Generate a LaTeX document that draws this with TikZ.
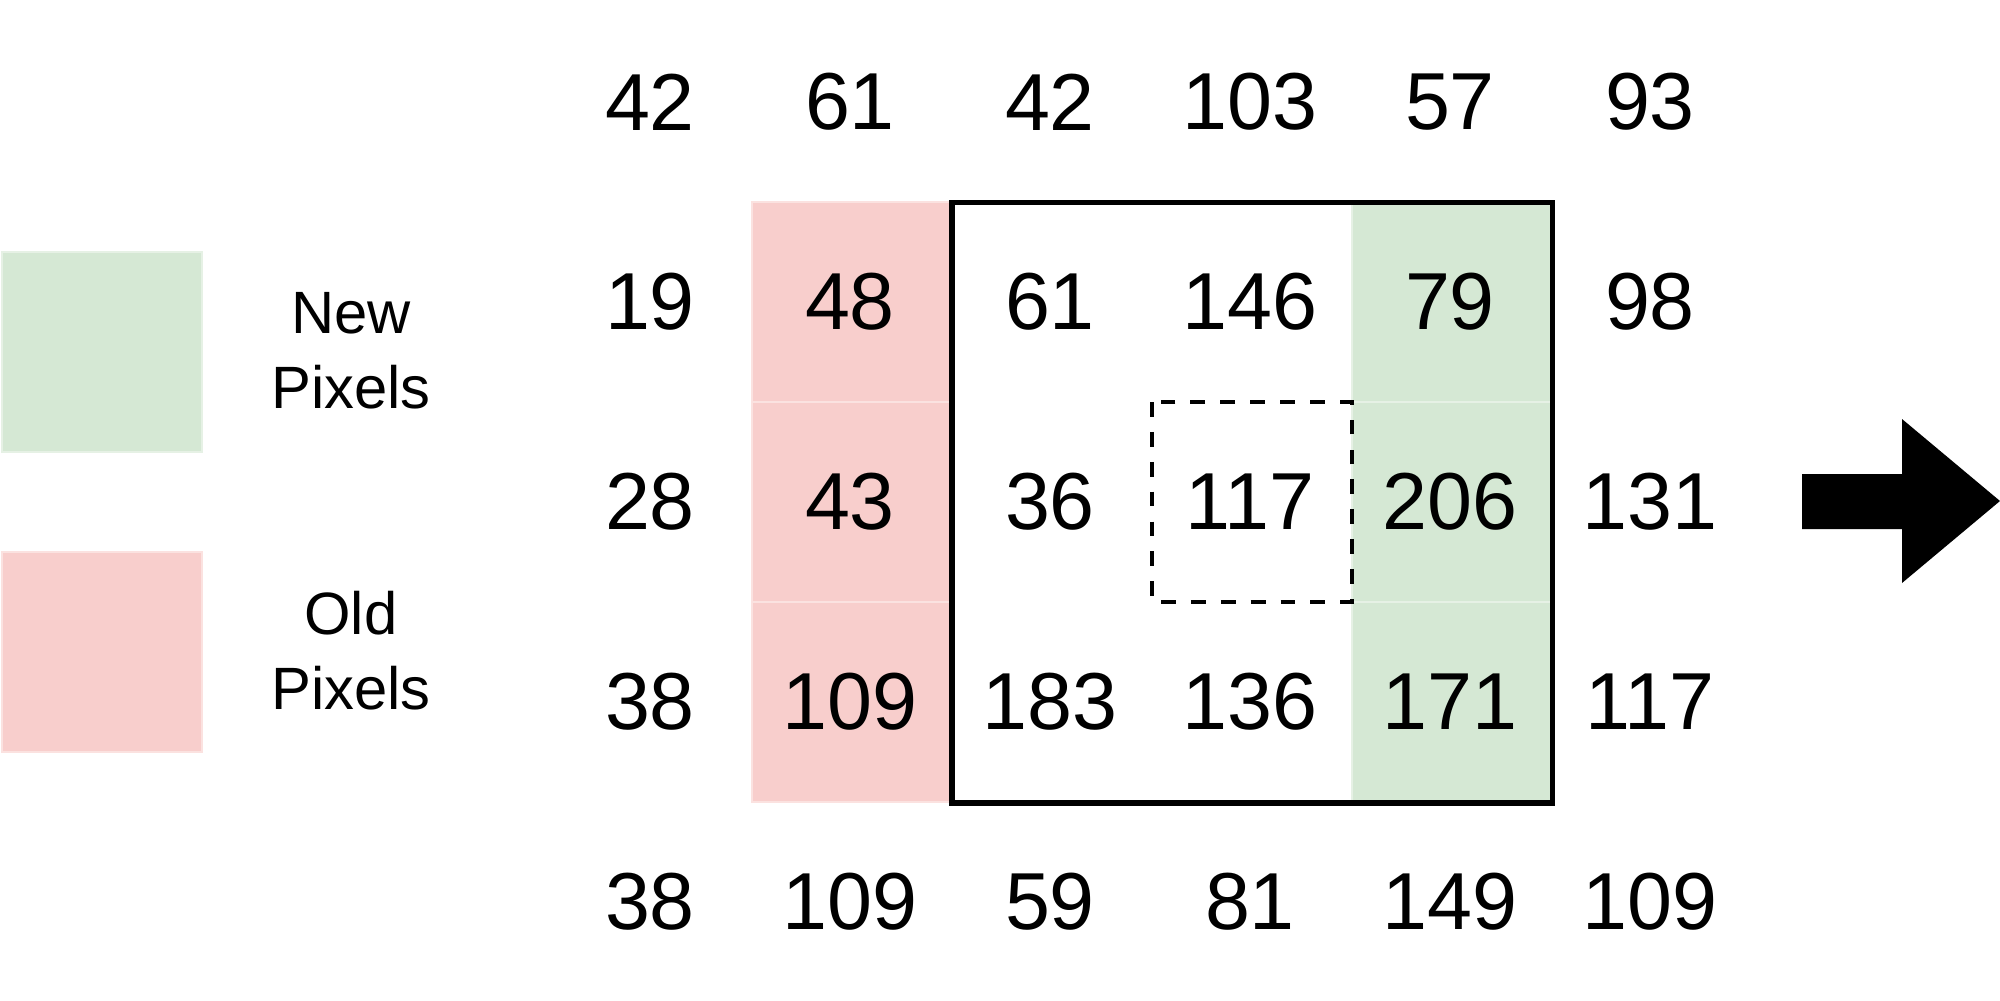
\documentclass[tikz,border=0pt]{standalone}
\usepackage{fontspec}
\setmainfont{Liberation Sans}
\definecolor{newgreen}{HTML}{D5E8D4}
\definecolor{oldpink}{HTML}{F8CECC}
\begin{document}
\begin{tikzpicture}[x=0.1mm,y=-0.1mm,
  num/.style={font=\fontsize{23pt}{28pt}\selectfont, inner sep=0pt},
  legtext/.style={font=\fontsize{17pt}{21.3pt}\selectfont, align=center, inner sep=0pt},
  greencell/.style={fill=newgreen, draw=newgreen!60!white, line width=0.3pt},
  pinkcell/.style={fill=oldpink, draw=oldpink!60!white, line width=0.3pt},
  legbox/.style={line width=0.3pt},
  frame/.style={draw=black, line width=1.45pt},
  dashframe/.style={draw=black, line width=1.3pt, dash pattern=on 4.2pt off 4.3pt},
  bigarrow/.style={fill=black}
]
\useasboundingbox (0,0) rectangle (2000,1000);
% legend
\path[legbox, fill=newgreen, draw=newgreen!60!white] (2,252) rectangle (202,452);
\path[legbox, fill=oldpink, draw=oldpink!60!white] (2,552) rectangle (202,752);
\node[legtext] (newlab) at (351,351) {New\\Pixels};
\node[legtext] (oldlab) at (351,651) {Old\\Pixels};
% coloured cells
\foreach \r in {1,2,3}{
  \path[pinkcell] (752,{2+200*\r}) rectangle (952,{202+200*\r});
  \path[greencell] (1352,{2+200*\r}) rectangle (1552,{202+200*\r});
}
% frames
\draw[frame] (952,202.5) rectangle (1552.5,803);
\draw[dashframe] (1152,402) rectangle (1352,602);
% numbers
\foreach \row/\vals in {0/{42,61,42,103,57,93},1/{19,48,61,146,79,98},2/{28,43,36,117,206,131},3/{38,109,183,136,171,117},4/{38,109,59,81,149,109}}{
  \foreach \v [count=\c from 0] in \vals {
    \node[num] (n\row\c) at ({650+200*\c},{102+200*\row}) {\v};
  }
}
% arrow
\fill[bigarrow] (1802,474) -- (1902,474) -- (1902,419) -- (2000,501) -- (1902,583) -- (1902,529) -- (1802,529) -- cycle;
\end{tikzpicture}
\end{document}
